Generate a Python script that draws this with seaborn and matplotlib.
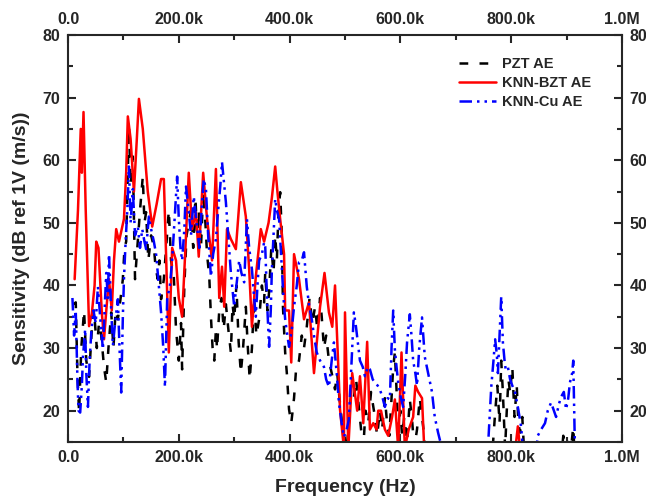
import pandas as pd
import matplotlib
matplotlib.use("Agg")
import matplotlib.pyplot as plt
import seaborn as sns
from matplotlib.ticker import MultipleLocator, FuncFormatter

# Data (frequency in kHz, sensitivity in dB)
pzt_khz = [
    10, 14, 17, 20, 24, 29, 33, 38, 43, 47,
    52, 56, 60, 65, 69, 73, 78, 82, 86, 90,
    95, 99, 102, 105, 108, 110, 113, 117, 121, 126,
    130, 135, 138, 141, 145, 150, 155, 158, 162, 165,
    168, 173, 177, 182, 186, 191, 195, 200, 204, 206,
    210, 214, 218, 222, 226, 230, 233, 236, 240, 244,
    248, 251, 255, 258, 261, 264, 267, 269, 273, 277,
    281, 285, 290, 294, 297, 300, 304, 308, 312, 316,
    321, 324, 328, 332, 336, 340, 345, 350, 354, 356,
    360, 363, 367, 371, 374, 377, 380, 383, 386, 388,
    392, 395, 399, 403, 408, 412, 417, 422, 426, 431,
    436, 441, 446, 450, 455, 458, 462, 466, 471, 476,
    482, 486, 490, 494, 498, 503, 507, 511, 516, 520,
    525, 529, 533, 537, 542, 547, 549, 554, 558, 563,
    567, 572, 576, 580, 584, 587, 590, 593, 596, 600,
    603, 607, 612, 617, 621, 625, 630, 635, 639, 643,
    647, 765, 771, 775, 779, 782, 785, 789, 792, 795,
    798, 802, 806, 810, 813, 816, 820, 823, 826, 890,
    894, 898, 903, 908, 912, 915]
pzt_db = [
    37, 37.3, 26, 19.7, 30, 36, 28, 25.4, 33, 36,
    30, 34, 32, 27, 24.5, 30, 35.7, 30, 36, 34.6,
    38, 41, 46, 47, 58, 65.4, 56, 60.6, 41, 47,
    52, 57.4, 50, 51.7, 44, 48, 46.2, 43, 41, 44,
    37.8, 41, 46, 52, 44, 41.4, 33, 28, 34, 26.6,
    40, 48, 50, 52, 46, 54, 48, 52, 46, 55,
    50, 45, 41.4, 35, 30, 28, 33, 29.8, 36, 38,
    33, 37, 32.5, 29.3, 37, 34.6, 40, 31, 26, 30,
    36.6, 31, 25, 30, 38, 32, 34.6, 40, 37.3, 42,
    36, 39, 46, 42, 48, 44, 52, 54.9, 48, 36.6,
    29.3, 26, 20.2, 18, 22, 27, 28, 32, 30, 33.4,
    38, 34, 36.6, 33, 38, 35, 30, 32, 28, 26,
    23.4, 26, 22, 18.6, 16, 14, 18, 23, 22, 25,
    20.6, 17, 14, 20, 18, 23, 21.8, 19, 16, 20,
    17, 22, 18, 16, 22, 27, 29.3, 23.4, 17, 20,
    16, 19, 15, 21.8, 18.6, 14, 17, 22, 19, 16,
    12, 12, 19.7, 24, 18, 28, 22.9, 14, 20, 25,
    22.9, 27, 19, 24, 18, 16.5, 19, 14, 12, 12,
    16, 14, 15, 14, 17.4, 12]

bzt_khz = [
    12, 18, 23, 25, 28, 32, 38, 43, 48, 51,
    55, 61, 65, 70, 74, 79, 83, 87, 92, 97,
    101, 105, 108, 113, 119, 124, 128, 135, 144, 152,
    160, 168, 173, 177, 182, 188, 195, 200, 206, 212,
    218, 224, 231, 236, 244, 251, 260, 267, 273, 278,
    282, 287, 294, 303, 312, 321, 327, 332, 339, 348,
    354, 362, 368, 374, 378, 383, 390, 392, 399, 403,
    408, 417, 426, 435, 444, 455, 463, 471, 477, 482,
    491, 498, 500, 506, 513, 522, 527, 533, 540, 545,
    551, 557, 560, 565, 572, 578, 585, 590, 596, 602,
    608, 615, 623, 627, 632, 639, 643, 648, 805, 812,
    818]
bzt_db = [
    41, 52, 65, 58, 67.7, 52, 33.5, 35.5, 40, 47,
    46, 35.7, 31.4, 37, 41, 36, 44, 49, 47, 49,
    50.6, 58, 67, 63.4, 55, 63, 69.8, 65, 55, 49.4,
    53, 57, 57, 45, 29.3, 46, 44, 38, 35, 46,
    58, 49, 51.7, 44.6, 58, 50.6, 44, 58.6, 38, 43,
    36.6, 49, 47.4, 45.8, 56.5, 51, 42.6, 33.4, 41.4, 49,
    47, 50, 54, 59, 55, 50.6, 45, 36, 36, 27.7,
    45, 41, 34.6, 37.3, 26, 36.6, 42, 35.7, 33.4, 40,
    20.2, 14, 35.7, 14, 26, 20, 25.5, 18, 31, 17,
    18, 17, 20, 20, 17, 16, 19, 21.8, 14, 29.3,
    14, 17, 19, 24, 23, 22, 14, 12, 12, 17.5,
    12]

cu_khz = [
    8, 11, 14, 17, 19, 22, 25, 27, 31, 33,
    36, 39, 42, 46, 50, 54, 58, 63, 66, 69,
    72, 74, 78, 81, 85, 90, 93, 96, 99, 101,
    104, 107, 110, 113, 117, 121, 126, 130, 134, 138,
    141, 146, 150, 155, 159, 163, 168, 172, 175, 179,
    184, 188, 192, 197, 200, 203, 206, 210, 213, 218,
    222, 227, 233, 237, 242, 245, 249, 253, 258, 262,
    267, 271, 275, 278, 282, 285, 290, 294, 300, 304,
    309, 313, 318, 323, 327, 332, 336, 339, 342, 345,
    350, 354, 356, 360, 363, 366, 368, 371, 374, 377,
    381, 386, 389, 392, 396, 399, 404, 408, 413, 417,
    422, 426, 431, 435, 440, 444, 449, 455, 462, 466,
    471, 476, 480, 485, 489, 494, 498, 503, 507, 512,
    516, 519, 522, 527, 532, 536, 541, 545, 550, 554,
    559, 563, 568, 572, 577, 581, 584, 587, 590, 593,
    596, 601, 605, 609, 612, 617, 620, 623, 627, 630,
    634, 639, 642, 644, 650, 657, 662, 668, 675, 680,
    752, 758, 764, 768, 771, 774, 776, 779, 782, 785,
    788, 790, 794, 798, 802, 807, 812, 815, 818, 821,
    826, 843, 848, 854, 861, 866, 872, 877, 881, 886,
    890, 895, 899, 903, 906, 910, 912, 915, 918]
cu_db = [
    38, 32, 36, 25, 20, 19.7, 24, 28.6, 33, 26,
    20.6, 28, 32.5, 36, 34, 39.8, 35, 29.8, 36, 42,
    38, 45, 36, 30.4, 34, 37.8, 30, 22.9, 35, 41,
    47, 52, 59, 50, 55.4, 48, 49.4, 46, 49, 47,
    45.8, 51, 49, 47, 45, 41, 35.7, 30, 23.8, 37.8,
    40, 44, 50, 57.4, 50.6, 46, 44, 49, 55.8, 51.7,
    48, 54.2, 49.4, 46, 53.3, 57, 55.4, 48, 41.4, 45,
    47.4, 52, 56, 59.7, 56, 53.3, 47, 42, 36.6, 40,
    44, 42, 40.5, 50.6, 46, 42.6, 38, 35, 40, 44,
    45, 46.9, 46.2, 36, 30.2, 36, 42.6, 48, 53.8, 52,
    50.6, 42.6, 38, 34.6, 32, 30.2, 33, 36.6, 40, 43.7,
    44, 45.3, 39.8, 37, 34.6, 32, 29.3, 28, 27, 25,
    23.8, 28, 30.9, 26, 21.3, 18, 15.8, 17, 18.6, 28,
    35.7, 34, 31.8, 28, 27, 25.5, 27, 26.6, 25, 24.5,
    24, 23.4, 22, 20.6, 22, 21.8, 30, 36, 29.8, 27,
    24.5, 22, 20.6, 26, 30.9, 35.4, 32, 28, 26, 24,
    30, 34.9, 31, 28.6, 26, 23, 19, 16.5, 14, 12,
    12, 14, 23.8, 28, 31.4, 29, 26, 32, 38.2, 30.9,
    28, 26.6, 27, 25, 24, 22.9, 20.6, 19, 17.4, 14,
    12, 12, 16, 17, 18, 20, 21.3, 20, 19, 21,
    22.2, 23, 20.2, 22, 24.5, 26, 28, 14, 12]

series_names = ["PZT AE", "KNN-BZT AE", "KNN-Cu AE"]
colors = {"PZT AE": "black", "KNN-BZT AE": "#ff0000", "KNN-Cu AE": "#0000ff"}
dash_styles = {"PZT AE": (3.5, 4.5), "KNN-BZT AE": "", "KNN-Cu AE": (5, 2, 1, 2, 1, 2)}

df = pd.concat([
    pd.DataFrame({"freq": pzt_khz, "sens": pzt_db, "series": "PZT AE"}),
    pd.DataFrame({"freq": bzt_khz, "sens": bzt_db, "series": "KNN-BZT AE"}),
    pd.DataFrame({"freq": cu_khz, "sens": cu_db, "series": "KNN-Cu AE"}),
], ignore_index=True)

sns.set_style("ticks")
plt.rcParams['font.family'] = ['Liberation Sans', 'DejaVu Sans']
plt.rcParams['font.weight'] = 'bold'

fig = plt.figure(figsize=(6.46, 5.04), dpi=100)
ax = fig.add_axes([68 / 646, 1 - 442 / 504, 554 / 646, 407 / 504])

sns.lineplot(data=df, x="freq", y="sens", hue="series", style="series",
             hue_order=series_names, style_order=series_names,
             palette=colors, dashes=dash_styles, estimator=None, sort=False,
             linewidth=1.8, ax=ax)

ax.set_xlim(0, 1000)
ax.set_ylim(15, 80)

def fmt_freq(v, pos):
    if v == 0:
        return "0.0"
    if v >= 1000:
        return f"{v / 1000:.1f}M"
    return f"{v:.1f}k"

ax.xaxis.set_major_locator(MultipleLocator(200))
ax.xaxis.set_minor_locator(MultipleLocator(100))
ax.xaxis.set_major_formatter(FuncFormatter(fmt_freq))
ax.yaxis.set_major_locator(MultipleLocator(10))
ax.yaxis.set_minor_locator(MultipleLocator(5))

ax.tick_params(which="both", direction="in", top=True, right=True,
               labeltop=True, labelright=True, width=1.5, labelsize=11.5, pad=5.5)
ax.tick_params(which="major", length=6)
ax.tick_params(which="minor", length=3.5)
for lab in ax.get_xticklabels() + ax.get_yticklabels():
    lab.set_fontweight("bold")
for side in ax.spines.values():
    side.set_linewidth(1.5)

ax.set_xlabel("Frequency (Hz)", fontsize=14, fontweight="bold", labelpad=10)
ax.set_ylabel("Sensitivity (dB ref 1V (m/s))", fontsize=14, fontweight="bold", labelpad=9)

handles, labels = ax.get_legend_handles_labels()
ax.legend(handles, labels, loc="upper left", bbox_to_anchor=(452 / 646, 1 - 50 / 504),
          bbox_transform=fig.transFigure, frameon=False, borderpad=0,
          handlelength=2.5, handletextpad=0.4, labelspacing=0.35,
          prop={"weight": "bold", "size": 10.5})

fig.savefig("out.png", dpi=100)
